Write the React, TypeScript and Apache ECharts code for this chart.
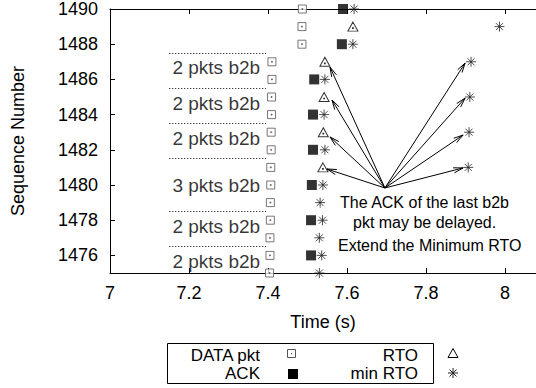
import React, { useEffect, useRef } from "react";
import * as echarts from "echarts";

const FONT = "'Liberation Sans', Arial, Helvetica, sans-serif";

const timeTicks = [7, 7.2, 7.4, 7.6, 7.8, 8];
const seqTicks = [1476, 1478, 1480, 1482, 1484, 1486, 1488, 1490];

// [time (s), sequence number]
const dataPkt: number[][] = [
  [7.404, 1475], [7.405, 1476], [7.405, 1477], [7.406, 1478], [7.406, 1479],
  [7.407, 1480], [7.407, 1481], [7.408, 1482], [7.408, 1483], [7.409, 1484],
  [7.409, 1485], [7.41, 1486], [7.41, 1487], [7.486, 1488], [7.486, 1489], [7.487, 1490],
];
const ack: number[][] = [
  [7.509, 1476], [7.509, 1478], [7.511, 1480], [7.514, 1482],
  [7.514, 1484], [7.517, 1486], [7.587, 1488], [7.59, 1490],
];
const rto: number[][] = [
  [7.539, 1481], [7.54, 1483], [7.542, 1485], [7.544, 1487], [7.615, 1489],
];
const minRto: number[][] = [
  [7.53, 1475], [7.536, 1476], [7.53, 1477], [7.538, 1478], [7.532, 1479],
  [7.539, 1480], [7.544, 1482], [7.542, 1484], [7.544, 1486], [7.615, 1488],
  [7.618, 1490], [7.907, 1481], [7.909, 1483], [7.911, 1485], [7.914, 1487], [7.986, 1489],
];
// arrows: [fromTime, fromSeq, toTime, toSeq]
const arrows: number[][] = [
  [7.696, 1479.83, 7.557, 1486.7],
  [7.696, 1479.83, 7.562, 1484.83],
  [7.696, 1479.83, 7.557, 1482.73],
  [7.696, 1479.83, 7.549, 1480.91],
  [7.696, 1479.83, 7.899, 1486.93],
  [7.696, 1479.83, 7.899, 1484.94],
  [7.696, 1479.83, 7.894, 1482.84],
  [7.696, 1479.83, 7.894, 1480.97],
];
const groupLabels = ["2 pkts b2b", "2 pkts b2b", "2 pkts b2b", "3 pkts b2b", "2 pkts b2b", "2 pkts b2b"];
const groupLabelSeq = [1486.65, 1484.65, 1482.65, 1480.0, 1477.65, 1475.65];
const groupLabelTime = 7.38;
const separatorSeq = [1487.5, 1485.5, 1483.5, 1481.5, 1478.5, 1476.5];
const separatorFrom = 7.15;
const separatorTo = 7.395;

const SQ_DOT = "path://M0,0L8,0L8,8L0,8Z M3.5,3.5L4.5,3.5L4.5,4.5L3.5,4.5Z";
const TRI_DOT = "path://M5,0L10,9L0,9Z M4.6,5.6L5.4,5.6L5.4,6.4L4.6,6.4Z";
const STAR = "path://M0,5L10,5 M5,0L5,10 M1.5,1.5L8.5,8.5 M1.5,8.5L8.5,1.5";

export default function App() {
  const ref = useRef<HTMLDivElement>(null);
  useEffect(() => {
    if (!ref.current) return;
    const chart = echarts.init(ref.current, undefined, { renderer: "svg" });
    const axisCommon = {
      type: "value" as const,
      splitLine: { show: false },
      axisLine: { show: true, lineStyle: { color: "#000", width: 1 } },
    };
    const txt = (text: string, x: number, y: number, align: string, size: number) => ({
      type: "text",
      silent: true,
      style: { text, x, y, align, verticalAlign: "middle", fontSize: size, fontFamily: FONT, fill: "#000" },
    });
    const starLines = (cx: number, cy: number) => ({
      type: "group",
      silent: true,
      children: [
        [cx - 5, cy, cx + 5, cy],
        [cx, cy - 5, cx, cy + 5],
        [cx - 3.5, cy - 3.5, cx + 3.5, cy + 3.5],
        [cx - 3.5, cy + 3.5, cx + 3.5, cy - 3.5],
      ].map((l) => ({
        type: "line",
        shape: { x1: l[0], y1: l[1], x2: l[2], y2: l[3] },
        style: { stroke: "#222", lineWidth: 1 },
      })),
    });
    const option = {
      animation: false,
      backgroundColor: "#fff",
      grid: { left: 110, top: 9, right: 0, bottom: 115 },
      xAxis: [
        {
          ...axisCommon,
          position: "bottom",
          min: 7,
          max: 8.0785,
          axisTick: { show: true, inside: true, length: 5, customValues: timeTicks, lineStyle: { color: "#000" } },
          axisLabel: {
            customValues: timeTicks,
            color: "#000",
            fontSize: 18,
            fontFamily: FONT,
            margin: 11,
            formatter: (v: number) => String(v),
          },
          name: "Time (s)",
          nameLocation: "middle",
          nameGap: 40,
          nameTextStyle: { color: "#000", fontSize: 18, fontFamily: FONT },
        },
        {
          ...axisCommon,
          position: "top",
          min: 7,
          max: 8.0785,
          axisTick: { show: true, inside: true, length: 5, customValues: timeTicks, lineStyle: { color: "#000" } },
          axisLabel: { show: false },
        },
      ],
      yAxis: {
        ...axisCommon,
        min: 1475,
        max: 1490,
        axisTick: { show: true, inside: true, length: 5, customValues: seqTicks, lineStyle: { color: "#000" } },
        axisLabel: {
          customValues: seqTicks,
          color: "#000",
          fontSize: 18,
          fontFamily: FONT,
          margin: 12,
          formatter: (v: number) => String(v),
        },
        name: "Sequence Number",
        nameLocation: "middle",
        nameGap: 83,
        nameRotate: 90,
        nameTextStyle: { color: "#000", fontSize: 18, fontFamily: FONT },
      },
      series: [
        {
          type: "custom",
          silent: true,
          encode: { x: [0, 2], y: [1, 3] },
          data: arrows,
          renderItem: (params: any, api: any) => {
            const p1 = api.coord([api.value(0), api.value(1)]);
            const p2 = api.coord([api.value(2), api.value(3)]);
            const ang = Math.atan2(p2[1] - p1[1], p2[0] - p1[0]);
            const L = 10;
            const a = Math.PI / 12;
            const h1 = [p2[0] - L * Math.cos(ang - a), p2[1] - L * Math.sin(ang - a)];
            const h2 = [p2[0] - L * Math.cos(ang + a), p2[1] - L * Math.sin(ang + a)];
            return {
              type: "group",
              children: [
                { type: "line", shape: { x1: p1[0], y1: p1[1], x2: p2[0], y2: p2[1] }, style: { stroke: "#000", lineWidth: 1 } },
                { type: "polyline", shape: { points: [h1, p2, h2] }, style: { stroke: "#000", fill: "none", lineWidth: 1 } },
              ],
            };
          },
        },
        {
          type: "scatter",
          silent: true,
          symbolSize: 0,
          data: groupLabels.map((name, i) => ({ name, value: [groupLabelTime, groupLabelSeq[i]] })),
          label: {
            show: true,
            position: "left",
            distance: 0,
            formatter: "{b}",
            color: "#000",
            fontSize: 19,
            fontFamily: FONT,
          },
          markLine: {
            silent: true,
            symbol: "none",
            label: { show: false },
            lineStyle: { color: "#000", width: 1, type: [1, 2] },
            data: separatorSeq.map((s) => [{ coord: [separatorFrom, s] }, { coord: [separatorTo, s] }]),
          },
        },
        {
          name: "DATA pkt",
          type: "scatter",
          silent: true,
          symbol: SQ_DOT,
          symbolSize: 8,
          itemStyle: { color: "#fff", borderColor: "#555", borderWidth: 1 },
          data: dataPkt,
        },
        {
          name: "ACK",
          type: "scatter",
          silent: true,
          symbol: "rect",
          symbolSize: 10,
          itemStyle: { color: "#000" },
          data: ack,
        },
        {
          name: "RTO",
          type: "scatter",
          silent: true,
          symbol: TRI_DOT,
          symbolSize: [10, 9],
          itemStyle: { color: "#fff", borderColor: "#000", borderWidth: 1 },
          data: rto,
        },
        {
          name: "min RTO",
          type: "scatter",
          silent: true,
          symbol: STAR,
          symbolSize: 10,
          itemStyle: { color: "rgba(0,0,0,0)", borderColor: "#222", borderWidth: 1 },
          data: minRto,
        },
      ],
      graphic: [
        txt("The ACK of the last b2b", 340, 202, "left", 16),
        txt("pkt may be delayed.", 353, 222, "left", 16),
        txt("Extend the Minimum RTO", 338, 245, "left", 16),
        {
          type: "rect",
          silent: true,
          shape: { x: 167.5, y: 343.5, width: 266, height: 40 },
          style: { fill: "none", stroke: "#000", lineWidth: 1 },
        },
        txt("DATA pkt", 260, 355, "right", 17),
        txt("ACK", 260, 373, "right", 17),
        txt("RTO", 418, 355, "right", 17),
        txt("min RTO", 418, 373, "right", 17),
        {
          type: "rect",
          silent: true,
          shape: { x: 287.5, y: 349.5, width: 8, height: 8 },
          style: { fill: "#fff", stroke: "#555", lineWidth: 1 },
        },
        {
          type: "rect",
          silent: true,
          shape: { x: 291, y: 353, width: 1.2, height: 1.2 },
          style: { fill: "#555" },
        },
        {
          type: "rect",
          silent: true,
          shape: { x: 288, y: 369, width: 10, height: 10 },
          style: { fill: "#000" },
        },
        {
          type: "polygon",
          silent: true,
          shape: { points: [[453, 348.5], [458, 357.5], [448, 357.5]] },
          style: { fill: "#fff", stroke: "#000", lineWidth: 1 },
        },
        starLines(453, 373),
      ],
    };
    chart.setOption(option as any);
    return () => chart.dispose();
  }, []);
  return (
    <div
      ref={ref}
      style={{ position: "absolute", left: 0, top: 0, width: 536, height: 388, background: "#fff" }}
    />
  );
}
